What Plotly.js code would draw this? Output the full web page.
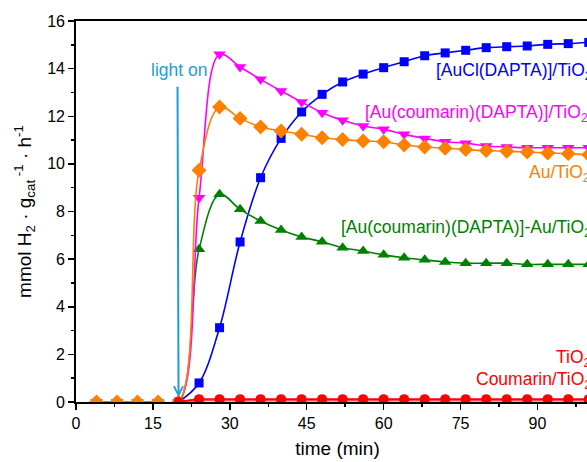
<!DOCTYPE html>
<html>
<head>
<meta charset="utf-8">
<script src="https://cdn.plot.ly/plotly-3.0.1.min.js"></script>
<style>
html, body { margin:0; padding:0; overflow:hidden; background:#fff; }
#chart { width:605px; height:462px; }
</style>
</head>
<body>
<div id="chart"></div>
<script>
// time (min)
const tEarly = [4, 8, 12, 16, 20];
const tLate = [24, 28, 32, 36, 40, 44, 48, 52, 56, 60, 64, 68, 72, 76, 80, 84, 88, 92, 96, 100];

const blueTime = [20].concat(tLate);
const blueVals = [0, 0.8, 3.12, 6.72, 9.42, 11.07, 12.18, 12.92, 13.44, 13.77, 14.04, 14.29, 14.54, 14.66, 14.77, 14.88, 14.92, 14.95, 15.02, 15.05, 15.1];

const magTime = tEarly.concat(tLate);
const magVals = [0, 0, 0, 0, 0, 8.58, 14.6, 14.07, 13.55, 13.06, 12.6, 12.15, 11.83, 11.59, 11.45, 11.24, 11.07, 10.93, 10.87, 10.75, 10.71, 10.68, 10.68, 10.68, 10.68];

const orTime = tEarly.concat(tLate);
const orVals = [0, 0, 0, 0, 0, 9.73, 12.39, 11.91, 11.55, 11.38, 11.24, 11.1, 11.02, 10.96, 10.93, 10.79, 10.71, 10.66, 10.6, 10.56, 10.53, 10.5, 10.46, 10.43, 10.38];

const grTime = tEarly.concat(tLate);
const grVals = [0, 0, 0, 0, 0, 6.41, 8.72, 8.09, 7.6, 7.22, 6.93, 6.73, 6.48, 6.34, 6.18, 6.06, 5.97, 5.88, 5.83, 5.83, 5.83, 5.78, 5.78, 5.78, 5.78];

const tio2Time = [20].concat(tLate);
const tio2Vals = [0, 0.12, 0.12, 0.12, 0.12, 0.12, 0.12, 0.12, 0.12, 0.12, 0.12, 0.12, 0.12, 0.12, 0.12, 0.12, 0.12, 0.12, 0.12, 0.12, 0.12];
const coumTime = [20].concat(tLate);
const coumVals = [0, 0.07, 0.07, 0.07, 0.07, 0.07, 0.07, 0.07, 0.07, 0.07, 0.07, 0.07, 0.07, 0.07, 0.07, 0.07, 0.07, 0.07, 0.07, 0.07, 0.07];

const names = ['[AuCl(DAPTA)]/TiO<sub>2</sub>', '[Au(coumarin)(DAPTA)]/TiO<sub>2</sub>', 'Au/TiO<sub>2</sub>',
  '[Au(coumarin)(DAPTA)]-Au/TiO<sub>2</sub>', 'TiO<sub>2</sub>', 'Coumarin/TiO<sub>2</sub>'];
const colors = ['#0000FF', '#FF00FF', '#FF8000', '#008000', '#FF0000', '#FF0000'];
const labelX = [69.8, 56.0, 88.0, 51.3, 93.3, 77.6];
const labelY = [13.9, 12.1, 9.6, 7.3, 1.82, 0.9];

function tr(x, y, color, symbol, size, name, lw) {
  return {
    x: x, y: y, type: 'scatter', mode: 'lines+markers', name: name,
    line: {color: color, width: lw || 1.6, shape: 'spline', smoothing: 1},
    marker: {color: color, symbol: symbol, size: size, line: {width: 0}},
    cliponaxis: true
  };
}

const data = [
  tr(coumTime, coumVals, '#FF5050', 'circle', 10, names[5], 2.2),
  tr(blueTime, blueVals, colors[0], 'square', 9, names[0]),
  tr(grTime, grVals, colors[3], 'triangle-up', 11, names[3]),
  tr(magTime, magVals, colors[1], 'triangle-down', 11, names[1]),
  tr(orTime, orVals, colors[2], 'diamond', 11.5, names[2]),
  tr(tio2Time, tio2Vals, colors[4], 'circle', 10, names[4])
];

const lblFont = {family: 'Liberation Sans, Arial, sans-serif', size: 17.5};
const annotations = names.map((n, i) => ({
  x: labelX[i], y: labelY[i], xref: 'x', yref: 'y', text: n, showarrow: false,
  xanchor: 'left', yanchor: 'middle', font: Object.assign({}, lblFont, {color: colors[i]})
}));
annotations.push({
  x: 20, y: 13.93, xref: 'x', yref: 'y', text: 'light on', showarrow: false,
  xanchor: 'center', yanchor: 'middle', font: Object.assign({}, lblFont, {color: '#1A9ED6'})
});
annotations.push({
  x: 20, y: 0.2, xref: 'x', yref: 'y', ax: 19.8, ay: 13.3, axref: 'x', ayref: 'y',
  text: '', showarrow: true, arrowhead: 5, arrowsize: 0.9, arrowwidth: 2, arrowcolor: '#1A9ED6'
});

const axFont = {family: 'Liberation Sans, Arial, sans-serif', size: 16, color: '#000'};
const layout = {
  width: 605, height: 462,
  margin: {l: 76, r: 6, t: 21, b: 60},
  paper_bgcolor: '#fff', plot_bgcolor: '#fff',
  showlegend: false,
  font: axFont,
  xaxis: {
    range: [0, 102], tickmode: 'linear', tick0: 0, dtick: 15,
    ticks: 'outside', ticklen: 6, tickwidth: 1.5, tickcolor: '#000',
    showline: true, linecolor: '#000', linewidth: 1.8, mirror: true,
    showgrid: false, zeroline: false, tickfont: axFont,
    minor: {dtick: 7.5, ticks: 'outside', ticklen: 3.5, tickwidth: 1.5, tickcolor: '#000'},
    title: {text: 'time (min)', font: {family: 'Liberation Sans, Arial, sans-serif', size: 19, color: '#000'}, standoff: 11}
  },
  yaxis: {
    range: [0, 16], tickmode: 'linear', tick0: 0, dtick: 2,
    ticks: 'outside', ticklen: 6, tickwidth: 1.5, tickcolor: '#000',
    showline: true, linecolor: '#000', linewidth: 1.8, mirror: true,
    showgrid: false, zeroline: false, tickfont: axFont,
    minor: {dtick: 1, ticks: 'outside', ticklen: 3.5, tickwidth: 1.5, tickcolor: '#000'},
    title: {text: 'mmol H<sub>2</sub> · g<sub>cat</sub><sup> -1</sup> · h<sup>-1</sup>', font: {family: 'Liberation Sans, Arial, sans-serif', size: 19, color: '#000'}, standoff: 10}
  },
  annotations: annotations
};

Plotly.newPlot('chart', data, layout, {displayModeBar: false, staticPlot: true});
</script>
</body>
</html>
